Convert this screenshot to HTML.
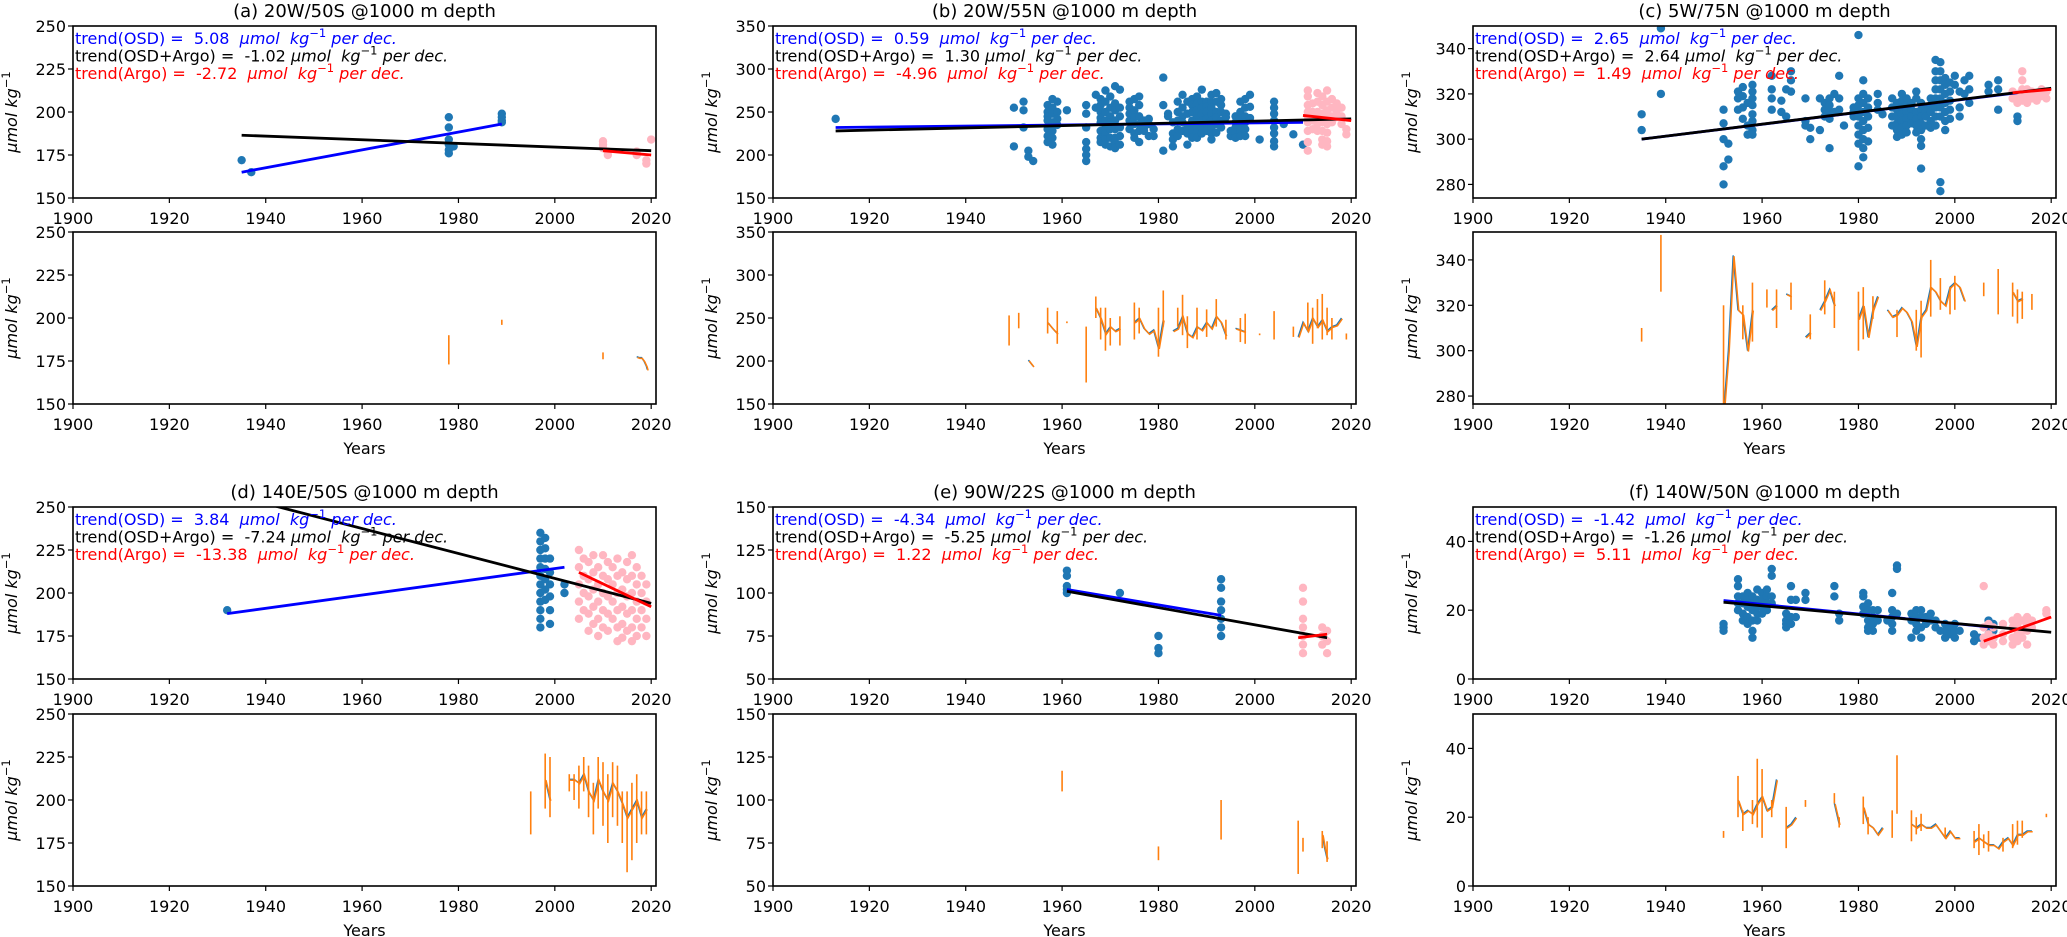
<!DOCTYPE html>
<html><head><meta charset="utf-8">
<style>
html,body{margin:0;padding:0;background:#fff;}
svg{display:block;font-family:"DejaVu Sans","Liberation Sans",sans-serif;}
</style></head>
<body>
<svg id="fig" width="2067" height="937" viewBox="0 0 2067 937" xmlns="http://www.w3.org/2000/svg"></svg>
<script>
// ---------- DATA ----------
// Panel a
const osdYearsA=[1935,1937,1978,1979,1989];
const osdValsA=[[172],[165],[197,191,184,181,178,176],[180],[199,197,195,194]];
const argoYearsA=[2010,2011,2017,2019,2020];
const argoValsA=[[183,181,179],[177,175],[177,175],[172,170],[184]];
const trendOsdA=[1935,165,1989,193];
const trendAllA=[1935,186.5,2020,177.5];
const trendArgoA=[2010,177.5,2020,175];
const lineXA=[2017,2017.5,2018,2018.5,2019,2019.2];
const lineYA=[177.5,177,177,175,172,170];
const errXA=[1978,1989,2010];
const errLoA=[173,196,176];
const errHiA=[190,199,180];
// Panel b
const osdYearsB=[1913,1950,1952,1953,1954,1957,1958,1959,1961,1965,1967,1968,1969,1970,1971,1972,1974,1975,1976,1977,1978,1979,1981,1982,1983,1984,1985,1986,1987,1988,1989,1990,1991,1992,1993,1994,1995,1996,1997,1998,1999,2001,2004,2006,2008,2010];
const osdValsB=[[242],[255,210],[262,252,232],[205,198],[193],[258,250,245,240,230,222,215],[265,255,248,238,228,220,212],[262,250,242,235],[252],[258,248,232,215,207,200,193],[270,255],[265,258,250,243,238,228,220,215],[275,262,250,240,232,225,218,212],[268,255,245,238,230,220,210],[280,260,252,240,230,220,215,208],[276,255,245,232,222,212],[262,255,248,240,230],[265,252,244,236,225,220],[268,258,245,236,228,215],[240,232,228],[242,236,222],[230,222],[290,258,205],[248,245],[238,225,218,210],[262,250,240,230,222],[270,255,245,238,228],[262,248,232,225,212],[265,258,250,240,232,226,220],[268,260,252,245,238,232,226,220],[276,262,255,248,240,232,225],[262,256,250,242,236,228],[270,262,255,248,240,232,225,218],[272,262,250,244,236,226],[265,258,250,240,232],[248,244],[222,228],[245,238,232,226,220],[262,250,242,236,228,222],[265,255,245,238,230,222],[270,256,243],[218],[262,255,248,240,232,225,216,210],[236],[224],[212]];
const argoYearsB=[2011,2012,2013,2014,2015,2016,2017,2018,2019];
const argoValsB=[[275,268,258,250,245,238,228,215,205],[260,250,240,230],[272,262,250,242,236,228],[268,258,248,238,228,218,212],[275,262,252,244,236,226,216,210],[265,255,245,238],[260,252,244],[255,245,236],[230,224]];
const trendOsdB=[1913,232,2010,238];
const trendAllB=[1913,228,2020,242];
const trendArgoB=[2010,246,2020,240];
const lineXB=[1953,1954,null,1957,1958,1959,null,1967,1968,1969,1970,1971,1972,null,1975,1976,1977,1978,1979,1980,1981,null,1983,1984,1985,1986,1987,1988,1989,1990,1991,1992,1993,1994,null,1996,1997,1998,null,2009,2010,2011,2012,2013,2014,2015,2016,2017,2018];
const lineYB=[201,194,null,245,238,232,null,262,250,232,240,235,238,null,245,250,238,232,236,215,248,null,235,238,252,232,228,240,236,245,238,252,245,230,null,238,236,234,null,228,245,235,250,240,248,235,240,242,250];
const errXB=[1949,1951,1957,1959,1961,1965,1967,1968,1969,1970,1972,1975,1976,1980,1981,1984,1985,1986,1988,1990,1992,1994,1997,1998,2001,2004,2008,2011,2012,2013,2014,2015,2016,2019];
const errLoB=[218,238,232,220,244,175,250,225,212,218,218,225,232,205,240,240,230,215,225,228,240,225,222,220,230,225,228,235,220,238,225,230,225,225];
const errHiB=[253,256,262,258,246,240,275,262,262,250,252,268,262,262,282,262,277,252,262,260,272,248,250,255,232,258,240,268,262,272,278,262,250,232];
// Panel c
const osdYearsC=[1935,1939,1952,1953,1955,1956,1957,1958,1962,1964,1965,1966,1969,1970,1972,1973,1974,1975,1976,1977,1979,1980,1981,1982,1984,1985,1987,1988,1989,1990,1991,1992,1993,1994,1995,1996,1997,1998,1999,2000,2001,2002,2003,2007,2009,2013];
const osdValsC=[[311,304],[349,320],[313,307,300,288,280],[298,291],[321,318,313],[323,319,314,309],[316,306,302],[324,321,318,315,311,308,304,302],[328,322,318,313],[317,312],[322,310],[330,326,321],[318,308,306],[305,300],[318,304],[316,313,310],[318,315,312,309,296],[320,312],[328,318,313],[306],[314,312,310],[346,318,315,312,310,306,302,298,288],[326,320,316,312,308,304,300,296,292],[318,314,310,305,299],[320,316,313],[311],[318,314,310,306],[316,313,310,307,304,301],[320,317,314,311,308,305,302],[318,315,312,309,306,303],[316,313,310,307],[321,318,312,309,306,303],[316,313,310,307,304,300,297,287],[314,312,310,306],[318,315,312,308,305],[335,330,326,322,318,314,310,306],[334,330,326,322,318,314,310,281,277],[327,324,320,316,312,308,304],[325,321,317,313,309],[328,324],[321,314,310],[326,320],[328,322,316],[324,321],[326,322,313],[310,308]];
const argoYearsC=[2012,2013,2014,2015,2016,2017,2018,2019];
const argoValsC=[[321,318],[320,318,316],[330,326,322,319,317],[322,319,316],[321,318],[320,317],[322,319],[321,318]];
const trendOsdC=[1935,300,2013,320.5];
const trendAllC=[1935,300,2020,322.5];
const trendArgoC=[2012,320.5,2020,322];
const lineXC=[1952,1953,1954,1955,1956,1957,1958,null,1962,1963,null,1965,1966,null,1969,1970,null,1972,1973,1974,1975,null,1980,1981,1982,1983,1984,null,1986,1987,1988,1989,1990,1991,1992,1993,1994,1995,1996,1997,1998,1999,2000,2001,2002,null,2012,2013,2014];
const lineYC=[272,300,342,318,316,300,318,null,318,320,null,325,324,null,306,308,null,318,322,327,320,null,314,320,306,318,324,null,318,315,316,319,317,313,302,315,318,328,326,322,320,328,330,328,322,null,326,322,323];
const errXC=[1935,1939,1952,1956,1958,1961,1963,1966,1970,1973,1975,1980,1981,1983,1988,1992,1993,1995,1997,1999,2000,2006,2009,2012,2013,2014,2016];
const errLoC=[304,326,270,305,304,319,310,318,305,316,310,300,305,314,306,300,297,315,318,316,318,324,316,315,312,314,318];
const errHiC=[310,351,320,320,330,327,327,330,316,331,326,326,328,324,318,318,322,340,332,328,333,330,336,330,327,326,325];
// Panel d
const osdYearsD=[1932,1997,1998,1999,2002];
const osdValsD=[[190],[235,230,225,220,215,210,205,200,195,190,185,180],[232,226,220,214,208,202,196],[220,212,205,198,190,182],[205,200]];
const argoYearsD=[2005,2006,2007,2008,2009,2010,2011,2012,2013,2014,2015,2016,2017,2018,2019];
const argoValsD=[[225,215,205,195,185],[220,210,200,190],[218,208,198,188,178],[222,212,202,192,182],[215,205,195,185,175],[222,210,200,190,180],[218,208,198,188,178],[215,205,195,185],[220,210,200,190,180,172],[212,202,192,182,174],[218,208,198,188,178],[222,210,200,190,180,172],[215,205,195,185,175],[210,200,190,180],[205,195,185,175]];
const trendOsdD=[1932,188,2002,215];
const trendAllD=[1940,252,2020,194];
const trendArgoD=[2005,212,2020,192];
const lineXD=[1998,1999,null,2003,2004,2005,2006,2007,2008,2009,2010,2011,2012,2013,2014,2015,2016,2017,2018,2019];
const lineYD=[212,200,null,212,212,210,215,205,200,212,205,200,210,205,198,190,195,200,190,195];
const errXD=[1995,1998,1999,2003,2004,2005,2006,2007,2008,2009,2010,2011,2012,2013,2014,2015,2016,2017,2018,2019];
const errLoD=[180,195,190,205,200,195,205,190,180,195,185,175,190,185,175,158,165,175,180,180];
const errHiD=[205,227,225,215,215,220,225,220,210,225,222,215,222,220,205,205,210,215,205,205];
// Panel e
const osdYearsE=[1961,1972,1980,1993];
const osdValsE=[[113,110,104,102,100],[100],[75,68,65],[108,103,95,90,85,80,75]];
const argoYearsE=[2010,2014,2015];
const argoValsE=[[103,95,85,80,75,70,65],[80,75,70],[78,72,65]];
const trendOsdE=[1961,102,1993,87];
const trendAllE=[1961,101,2015,74];
const trendArgoE=[2009,74,2015,76];
const lineXE=[2014,2014.5,2015];
const lineYE=[80,72,66];
const errXE=[1960,1980,1993,2009,2010,2014,2015];
const errLoE=[105,65,77,57,70,72,64];
const errHiE=[117,73,100,88,78,82,76];
// Panel f
const osdYearsF=[1952,1955,1956,1957,1958,1959,1960,1961,1962,1965,1966,1967,1969,1975,1976,1981,1982,1983,1984,1986,1987,1988,1991,1992,1993,1994,1995,1996,1997,1998,1999,2000,2001,2004,2005,2007,2008];
const osdValsF=[[16,15,14],[29,27,24,22,20],[24,22,19,17],[25,23,21,18,16],[24,22,20,17,14,12],[26,23,21,19,17],[25,23,21,19],[26,24,22,20],[32,30,24,22],[19,17,16,15],[27,23,18,16],[23,18],[25,23],[27,24],[19,17],[25,24,21,19],[22,20,17,15,14],[20,18,16,14],[20,17],[17],[25,20,18,16,14],[33,32,19],[19,17,12],[20,18,16,14],[20,18,15,12],[18,16],[19,17],[17,15],[14],[16,14,12],[15,13],[16,14,12],[14],[13,11],[12],[17,15,13],[16,14,12]];
const argoYearsF=[2006,2007,2008,2010,2012,2013,2014,2015,2016,2019];
const argoValsF=[[27,15,12,10],[16,13,11],[15,12,10],[16,13,11],[17,15,12,10],[18,16,13,11],[17,14,12],[18,16,14,10],[17,15],[20,19]];
const trendOsdF=[1952,22.8,2008,15];
const trendAllF=[1952,22.3,2020,13.6];
const trendArgoF=[2006,11,2020,18];
const lineXF=[1955,1956,1957,1958,1959,1960,1961,1962,1963,null,1965,1966,1967,null,1975,1976,null,1981,1982,1983,1984,1985,null,1991,1992,1993,1994,1995,1996,1997,1998,1999,2000,2001,null,2004,2005,2006,2007,2008,2009,2010,2011,2012,2013,2014,2015,2016];
const lineYF=[25,21,22,21,24,26,22,23,31,null,17,18,20,null,24,18,null,23,18,17,15,17,null,18,17,18,17,17,18,16,14,16,14,14,null,13,14,13,12,12,11,13,14,12,15,15,16,16];
const errXF=[1952,1955,1956,1958,1959,1960,1962,1965,1969,1975,1976,1981,1982,1987,1988,1991,1992,1993,1998,2004,2005,2006,2007,2010,2012,2013,2014,2019];
const errLoF=[14,20,16,18,17,14,20,11,23,24,17,18,15,14,21,13,15,16,14,11,9,11,10,10,11,12,14,20];
const errHiF=[16,32,22,25,37,34,25,23,25,27,20,26,20,22,38,22,20,21,17,16,18,15,16,14,18,19,19,21];

const trendTextA=["5.08","-1.02","-2.72"];
const trendTextB=["0.59","1.30","-4.96"];
const trendTextC=["2.65","2.64","1.49"];
const trendTextD=["3.84","-7.24","-13.38"];
const trendTextE=["-4.34","-5.25","1.22"];
const trendTextF=["-1.42","-1.26","5.11"];

// ---------- LAYOUT ----------
const NS="http://www.w3.org/2000/svg";
const svg=document.getElementById('fig');
const panels=[
 {id:'a',title:'(a) 20W/50S @1000 m depth',col:0,row:0,yt:[150,250],yb:[150,250],tt:[150,175,200,225,250],tb:[150,175,200,225,250],
  oy:osdYearsA,ov:osdValsA,ay:argoYearsA,av:argoValsA,to:trendOsdA,tall:trendAllA,ta:trendArgoA,lx:lineXA,ly:lineYA,ex:errXA,el:errLoA,eh:errHiA,txt:trendTextA},
 {id:'b',title:'(b) 20W/55N @1000 m depth',col:1,row:0,yt:[150,350],yb:[150,350],tt:[150,200,250,300,350],tb:[150,200,250,300,350],
  oy:osdYearsB,ov:osdValsB,ay:argoYearsB,av:argoValsB,to:trendOsdB,tall:trendAllB,ta:trendArgoB,lx:lineXB,ly:lineYB,ex:errXB,el:errLoB,eh:errHiB,txt:trendTextB},
 {id:'c',title:'(c) 5W/75N @1000 m depth',col:2,row:0,yt:[274,350],yb:[276.5,352.3],tt:[280,300,320,340],tb:[280,300,320,340],
  oy:osdYearsC,ov:osdValsC,ay:argoYearsC,av:argoValsC,to:trendOsdC,tall:trendAllC,ta:trendArgoC,lx:lineXC,ly:lineYC,ex:errXC,el:errLoC,eh:errHiC,txt:trendTextC},
 {id:'d',title:'(d) 140E/50S @1000 m depth',col:0,row:1,yt:[150,250],yb:[150,250],tt:[150,175,200,225,250],tb:[150,175,200,225,250],
  oy:osdYearsD,ov:osdValsD,ay:argoYearsD,av:argoValsD,to:trendOsdD,tall:trendAllD,ta:trendArgoD,lx:lineXD,ly:lineYD,ex:errXD,el:errLoD,eh:errHiD,txt:trendTextD},
 {id:'e',title:'(e) 90W/22S @1000 m depth',col:1,row:1,yt:[50,150],yb:[50,150],tt:[50,75,100,125,150],tb:[50,75,100,125,150],
  oy:osdYearsE,ov:osdValsE,ay:argoYearsE,av:argoValsE,to:trendOsdE,tall:trendAllE,ta:trendArgoE,lx:lineXE,ly:lineYE,ex:errXE,el:errLoE,eh:errHiE,txt:trendTextE},
 {id:'f',title:'(f) 140W/50N @1000 m depth',col:2,row:1,yt:[0,50],yb:[0,50],tt:[0,20,40],tb:[0,20,40],
  oy:osdYearsF,ov:osdValsF,ay:argoYearsF,av:argoValsF,to:trendOsdF,tall:trendAllF,ta:trendArgoF,lx:lineXF,ly:lineYF,ex:errXF,el:errLoF,eh:errHiF,txt:trendTextF}
];
const colLeft=[73,773,1473], W=583, H=172;
const rowTop=[26,507], rowBot=[232,714];
const X0=1900, X1=2021;
const xTicks=[1900,1920,1940,1960,1980,2000,2020];
const FS=16;

function el(tag,attrs,parent){const e=document.createElementNS(NS,tag);for(const k in attrs)e.setAttribute(k,attrs[k]);(parent||svg).appendChild(e);return e;}
function sx(left,yr){return left+(yr-X0)/(X1-X0)*W;}
function sy(top,yl,v){return top+(yl[1]-v)/(yl[1]-yl[0])*H;}

function drawAxes(g,left,top,yl,ticks,name){
  const fr=el('rect',{x:left,y:top,width:W,height:H,fill:'none',stroke:'#000','stroke-width':1.6},g);
  
  
  xTicks.forEach(t=>{
    const x=sx(left,t);
    el('line',{x1:x,y1:top+H,x2:x,y2:top+H+5,stroke:'#000','stroke-width':1.2},g);
    const tx=el('text',{x:x,y:top+H+26,'font-size':FS,'text-anchor':'middle',fill:'#000'},g);
    tx.textContent=t;
    
    
  });
  ticks.forEach(t=>{
    const y=sy(top,yl,t);
    el('line',{x1:left-5,y1:y,x2:left,y2:y,stroke:'#000','stroke-width':1.2},g);
    const tx=el('text',{x:left-7,y:y+6,'font-size':FS,'text-anchor':'end',fill:'#000'},g);
    tx.textContent=t;
    
    
  });
  const yl2=el('text',{transform:`translate(${left-56},${top+H/2}) rotate(-90)`,'font-size':FS,'text-anchor':'middle','font-style':'italic',fill:'#000'},g);
  yl2.innerHTML='μmol kg<tspan font-size="11.5" dy="-7" font-style="normal">−1</tspan>';
  
  
}

function polyPath(xs,ys,left,top,yl){
  let d='',pen=false;
  for(let i=0;i<xs.length;i++){
    if(xs[i]===null||ys[i]===null){pen=false;continue;}
    const x=sx(left,xs[i]).toFixed(1), y=sy(top,yl,ys[i]).toFixed(1);
    d+=(pen?'L':'M')+x+' '+y+' ';pen=true;
  }
  return d;
}

panels.forEach(p=>{
  const left=colLeft[p.col], tTop=rowTop[p.row], bTop=rowBot[p.row];
  const g=el('g',{});
  
  
  const tl=el('text',{x:left+W/2,y:tTop-9,'font-size':18,'text-anchor':'middle',fill:'#000'},g);
  tl.textContent=p.title;
  
  
  const cp=el('clipPath',{id:'clipT'+p.id},g);el('rect',{x:left,y:tTop,width:W,height:H},cp);
  const cpb=el('clipPath',{id:'clipB'+p.id},g);el('rect',{x:left,y:bTop,width:W,height:H},cpb);
  const sc=el('g',{'clip-path':`url(#clipT${p.id})`},g);
  
  
  p.oy.forEach((yr,i)=>p.ov[i].forEach(v=>{
    const c=el('circle',{cx:sx(left,yr),cy:sy(tTop,p.yt,v),r:4.2,fill:'#1f77b4'},sc);
    
    
  }));
  p.ay.forEach((yr,i)=>p.av[i].forEach(v=>{
    const c=el('circle',{cx:sx(left,yr),cy:sy(tTop,p.yt,v),r:4.2,fill:'#ffb6c1'},sc);
    
    
  }));
  const trends=[[p.to,'#0000ff','trend-osd-line'],[p.tall,'#000000','trend-all-line'],[p.ta,'#ff0000','trend-argo-line']];
  trends.forEach(t=>{
    const a=t[0];
    const ln=el('line',{x1:sx(left,a[0]),y1:sy(tTop,p.yt,a[1]),x2:sx(left,a[2]),y2:sy(tTop,p.yt,a[3]),stroke:t[1],'stroke-width':2.8},sc);
    
    
  });
  const cols=['#0000ff','#000000','#ff0000'], labs=['trend(OSD) =  ','trend(OSD+Argo) =  ','trend(Argo) =  '];
  for(let k=0;k<3;k++){
    const tx=el('text',{x:left+2,y:tTop+18+k*17.5,'font-size':FS,fill:cols[k]},g);
    const sep=k===1?' ':'  ';
    tx.innerHTML=labs[k]+p.txt[k]+sep+'<tspan font-style="italic">μmol  kg</tspan><tspan font-size="11.5" dy="-7">−1</tspan><tspan dy="7" font-style="italic"> per dec.</tspan>';
    tx.setAttribute('xml:space','preserve');
    tx.style.whiteSpace='pre';
    
    
  }
  drawAxes(g,left,tTop,p.yt,p.tt,'top-axes');
  const bl=el('g',{'clip-path':`url(#clipB${p.id})`},g);
  
  
  const bp=el('path',{d:polyPath(p.lx,p.ly,left,bTop,p.yb),fill:'none',stroke:'#1f77b4','stroke-width':1.5},bl);
  
  
  p.ex.forEach((yr,i)=>{
    const x=sx(left,yr);
    const eb=el('line',{x1:x,y1:sy(bTop,p.yb,p.el[i]),x2:x,y2:sy(bTop,p.yb,p.eh[i]),stroke:'#ff7f0e','stroke-width':1.6},bl);
    
    
  });
  const op=el('path',{d:polyPath(p.lx,p.ly,left,bTop,p.yb),fill:'none',stroke:'#ff7f0e','stroke-width':1.5,transform:'translate(0.8,0.8)'},bl);
  
  
  drawAxes(g,left,bTop,p.yb,p.tb,'bottom-axes');
  const xl=el('text',{x:left+W/2,y:bTop+H+50,'font-size':FS,'text-anchor':'middle',fill:'#000'},g);
  xl.textContent='Years';
  
  
});
</script>
</body></html>
